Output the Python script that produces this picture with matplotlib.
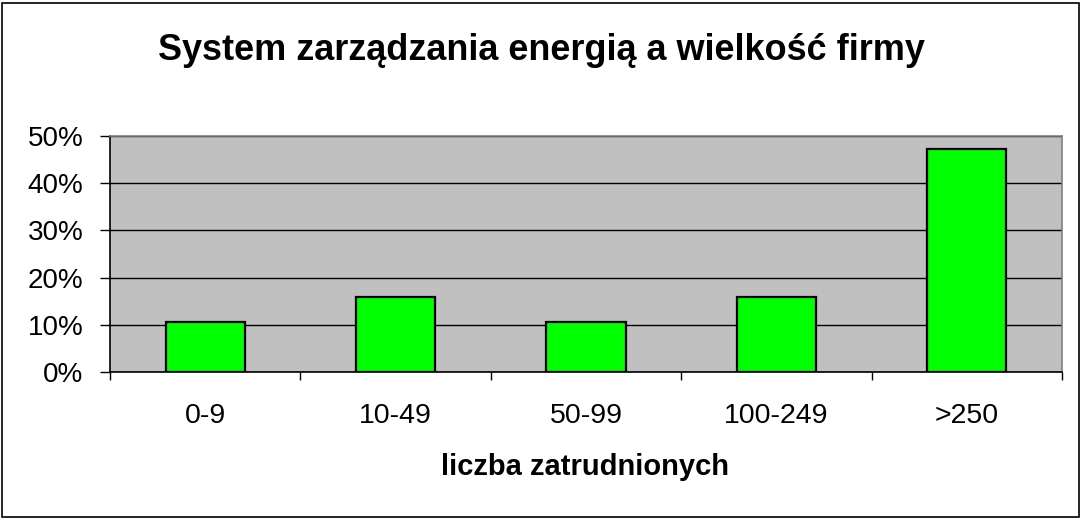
import matplotlib
matplotlib.use("Agg")
import matplotlib.pyplot as plt
from matplotlib.ticker import FuncFormatter, FixedLocator
from matplotlib.patches import Rectangle

categories = ["0-9", "10-49", "50-99", "100-249", ">250"]
values = [0.105, 0.158, 0.105, 0.158, 0.472]
y_ticks = [0.0, 0.1, 0.2, 0.3, 0.4, 0.5]
title = "System zarządzania energią a wielkość firmy"
xlabel = "liczba zatrudnionych"

plt.rcParams['font.family'] = ['Liberation Sans', 'DejaVu Sans']

W, H = 1082, 520
fig = plt.figure(figsize=(W / 100, H / 100), dpi=100)
fig.patch.set_facecolor("white")

# outer border
fig.add_artist(Rectangle((2 / W, 3 / H), 1077 / W, 514 / H, transform=fig.transFigure,
                         fill=False, edgecolor="black", linewidth=1.2))

left, right, top, bottom = 110, 1062, 136, 372
ax = fig.add_axes([left / W, 1 - bottom / H, (right - left) / W, (bottom - top) / H])
ax.set_facecolor("#C0C0C0")

x = list(range(len(categories)))
ax.bar(x, values, width=0.415, color="#00FF00", edgecolor="black", linewidth=1.6, zorder=3)

ax.set_xlim(-0.5, len(categories) - 0.5)
ax.set_ylim(0, 0.5)
ax.yaxis.set_major_locator(FixedLocator(y_ticks))
ax.yaxis.set_major_formatter(FuncFormatter(lambda v, p: f"{v*100:.0f}%"))
ax.grid(axis="y", color="black", linewidth=1.0, zorder=1)
ax.set_axisbelow(True)

ax.set_xticks(x)
ax.set_xticklabels(categories)
ax.xaxis.set_minor_locator(FixedLocator([i - 0.5 for i in range(len(categories) + 1)]))
ax.tick_params(axis="x", which="major", length=0, pad=22, labelsize=20.5)
ax.tick_params(axis="x", which="minor", length=6, width=1, color="black", direction="out")
ax.tick_params(axis="y", length=7.2, width=1, color="black", direction="out", pad=12, labelsize=20)

for s in ["top", "right"]:
    ax.spines[s].set_color("#808080")
    ax.spines[s].set_linewidth(1.2)
for s in ["left", "bottom"]:
    ax.spines[s].set_color("black")
    ax.spines[s].set_linewidth(1.2)

fig.text((160 + 923) / 2 / W, 1 - 60 / H, title, ha="center", va="baseline",
         fontsize=25.9, fontweight="bold")
fig.text((438 + 732) / 2 / W, 1 - 475 / H, xlabel, ha="center", va="baseline",
         fontsize=21, fontweight="bold")

fig.savefig("out.png", dpi=100, facecolor="white")
